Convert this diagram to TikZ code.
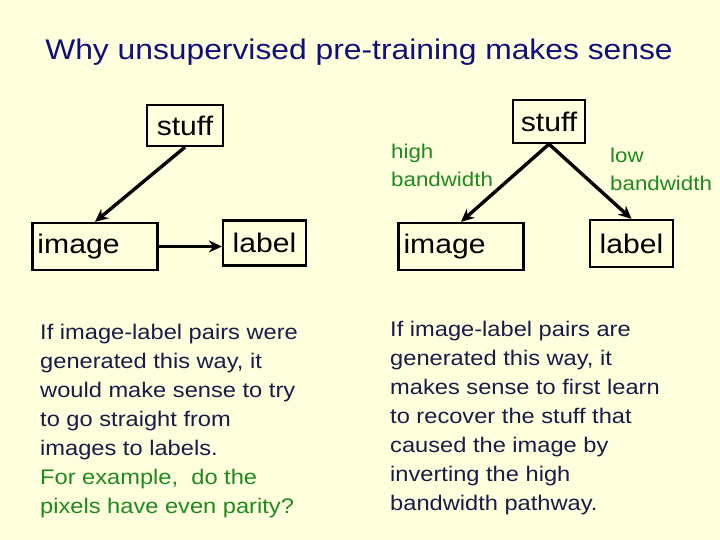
\documentclass[tikz,border=0pt]{standalone}
\usepackage{fontspec}
\setmainfont[FakeStretch=1.12]{Liberation Sans}
\usepackage{tikz}
\usetikzlibrary{arrows.meta, positioning}
\definecolor{bgyellow}{RGB}{255,255,221}
\definecolor{titleblue}{RGB}{16,16,122}
\definecolor{textnavy}{RGB}{24,28,72}
\definecolor{notegreen}{RGB}{30,138,30}
\tikzset{
    varbox/.style={rectangle, draw=black, line width=2.2bp, fill=bgyellow, text=black, inner sep=0pt, font=\fontsize{27}{30}\selectfont},
    arrow/.style={line width=3.4bp, -{Stealth[length=13bp, width=12bp]}},
    bandnote/.style={align=left, text=notegreen, inner sep=0pt, anchor=base west, font=\fontsize{20}{29}\selectfont},
    para/.style={align=left, text=textnavy, inner sep=0pt, anchor=base west, font=\fontsize{21.2}{29}\selectfont}
}
\begin{document}
\begin{tikzpicture}[x=1bp, y=-1bp]
    \fill[bgyellow] (0,0) rectangle (720,540);
    \useasboundingbox (0,0) rectangle (720,540);

    \node (title) [anchor=base, text=titleblue, font=\fontsize{28.5}{32}\selectfont] at (359,60) {Why unsupervised pre-training makes sense};

    % generating straight from image to label
    \node (stuffA) [varbox, minimum width=76bp, minimum height=41bp] at (185,125.5) {stuff};
    \node (imageA) [varbox, minimum width=125bp, minimum height=47bp, text width=115bp, align=left] at (95,246.5) {image};
    \node (labelA) [varbox, minimum width=83bp, minimum height=45bp] at (264.5,243) {label};

    \draw [arrow] (stuffA.south) -- (imageA.north);
    \draw [arrow] (imageA.east) -- (imageA.east -| labelA.west);

    % stuff causes both image and label
    \node (stuffB) [varbox, minimum width=72bp, minimum height=43bp] at (549,121.5) {stuff};
    \node (imageB) [varbox, minimum width=125bp, minimum height=47bp, text width=115bp, align=left] at (461,246.5) {image};
    \node (labelB) [varbox, minimum width=83bp, minimum height=47bp] at (631.5,243.5) {label};

    \draw [arrow] (stuffB.south) -- (imageB.north);
    \draw [arrow] (stuffB.south) -- (labelB.north);

    \node (high) [bandnote] at (391,187) {high\\bandwidth};
    \node (low) [bandnote] at (610,191) {low\\bandwidth};

    \node (leftpara) [para] at (40,513) {If image-label pairs were\\generated this way, it\\would make sense to try\\to go straight from\\images to labels.\\\textcolor{notegreen}{For example,\ \ do the}\\\textcolor{notegreen}{pixels have even parity?}};
    \node (rightpara) [para] at (390,510) {If image-label pairs are\\generated this way, it\\makes sense to first learn\\to recover the stuff that\\caused the image by\\inverting the high\\bandwidth pathway.};
\end{tikzpicture}
\end{document}
